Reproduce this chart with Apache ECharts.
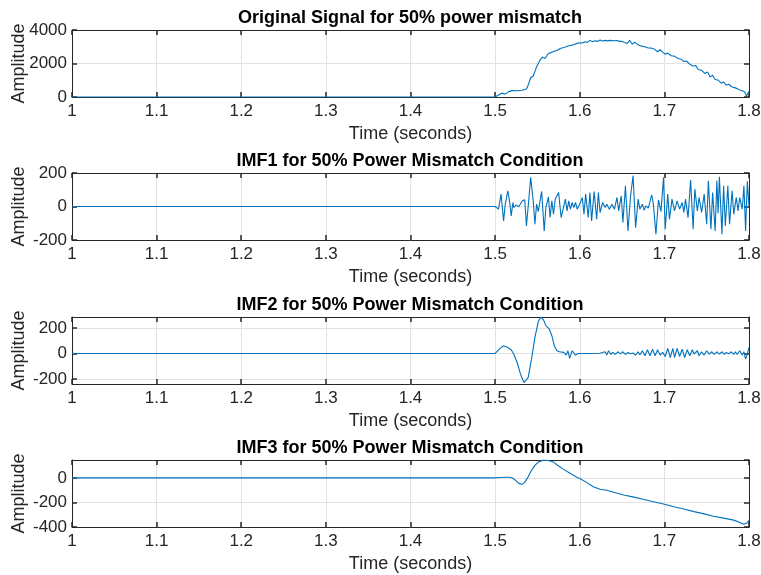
<!DOCTYPE html>
<html>
<head>
<meta charset="utf-8">
<script src="https://cdn.jsdelivr.net/npm/echarts@6/dist/echarts.min.js"></script>
<style>html,body{margin:0;padding:0;background:#fff}#c{width:761px;height:575px}</style>
</head>
<body>
<div id="c"></div>
<script>
// ---------------- data ----------------
const titles = [
  'Original Signal for 50% power mismatch',
  'IMF1 for 50% Power Mismatch Condition',
  'IMF2 for 50% Power Mismatch Condition',
  'IMF3 for 50% Power Mismatch Condition'
];
const xTickLabelsRange = [1, 1.8];
const yTickValues3 = [-200, 0, 200];

const origTime = [1.0, 1.5, 1.504, 1.508, 1.512, 1.516, 1.52, 1.526, 1.532, 1.537, 1.539, 1.542, 1.545, 1.549, 1.553, 1.556, 1.559, 1.563, 1.566, 1.569, 1.573, 1.577, 1.581, 1.584, 1.587, 1.59, 1.593, 1.597, 1.6, 1.603, 1.606, 1.609, 1.612, 1.615, 1.618, 1.621, 1.624, 1.627, 1.63, 1.633, 1.636, 1.64, 1.644, 1.647, 1.65, 1.653, 1.656, 1.659, 1.662, 1.665, 1.668, 1.671, 1.674, 1.677, 1.68, 1.684, 1.688, 1.692, 1.695, 1.698, 1.701, 1.704, 1.708, 1.712, 1.716, 1.72, 1.723, 1.726, 1.73, 1.734, 1.737, 1.74, 1.744, 1.748, 1.751, 1.754, 1.757, 1.76, 1.764, 1.767, 1.77, 1.773, 1.776, 1.78, 1.783, 1.786, 1.789, 1.792, 1.795, 1.797, 1.8];
const origValue = [0, 0, 120, 230, 170, 320, 380, 370, 400, 480, 700, 1150, 1250, 1800, 2200, 2380, 2300, 2600, 2650, 2720, 2780, 2900, 2950, 3000, 3060, 3080, 3140, 3200, 3240, 3220, 3300, 3260, 3380, 3300, 3360, 3320, 3400, 3340, 3380, 3350, 3380, 3360, 3370, 3320, 3320, 3250, 3200, 3380, 3150, 3280, 3140, 3080, 3020, 3000, 2940, 2920, 2860, 2700, 2820, 2680, 2560, 2620, 2460, 2440, 2300, 2250, 2120, 2150, 1960, 1850, 1880, 1640, 1600, 1400, 1500, 1200, 1300, 1050, 1000, 820, 900, 700, 760, 600, 560, 500, 420, 380, 300, 60, 340];

const imf1Time = [1.0, 1.5, 1.504, 1.507, 1.510, 1.512, 1.515, 1.517, 1.519, 1.521, 1.522, 1.525, 1.528, 1.530, 1.532, 1.535, 1.537, 1.540, 1.542, 1.545, 1.547, 1.549, 1.551, 1.555, 1.558, 1.560, 1.563, 1.565, 1.567, 1.569, 1.571, 1.575, 1.578, 1.580, 1.583, 1.585, 1.587, 1.589, 1.591, 1.593, 1.595, 1.597, 1.600, 1.603, 1.605, 1.607, 1.610, 1.612, 1.614, 1.617, 1.620, 1.622, 1.624, 1.627, 1.630, 1.632, 1.635, 1.638, 1.641, 1.644, 1.646, 1.649, 1.651, 1.654, 1.657, 1.660, 1.663, 1.666, 1.669, 1.671, 1.674, 1.676, 1.678, 1.681, 1.685, 1.687, 1.690, 1.693, 1.696, 1.699, 1.701, 1.704, 1.706, 1.709, 1.712, 1.715, 1.718, 1.721, 1.723, 1.725, 1.728, 1.731, 1.734, 1.736, 1.739, 1.741, 1.744, 1.747, 1.750, 1.752, 1.755, 1.757, 1.760, 1.762, 1.7635, 1.765, 1.768, 1.770, 1.772, 1.775, 1.777, 1.780, 1.782, 1.785, 1.787, 1.789, 1.792, 1.794, 1.796, 1.798, 1.800];
const imf1Value = [0, 0, -16, 74, -86, 14, 94, 34, -56, 24, -6, 10, -2, 4, 34, 40, -116, 54, 174, 34, -106, 14, -30, 90, -146, -6, 58, -66, 34, -46, 44, 84, -66, -76, 44, -26, 34, -16, 24, -6, 24, -16, 14, 54, -46, 74, -66, 84, -86, 90, -76, 84, -36, 24, -6, 14, -16, 14, -16, 54, -26, 64, -96, 124, -146, 60, 184, -126, 44, -16, 14, -22, 4, -10, 70, 14, -166, 40, -30, 174, -136, 74, -76, 44, -26, 34, -16, 24, -36, 44, -66, 158, -136, 104, -26, 54, -36, 74, -106, 154, -136, 84, -146, 154, -40, 178, -166, 124, -116, 124, -106, 94, -46, 54, -26, 54, -16, 124, -146, 150, 0];

const imf2Time = [1.0, 1.5, 1.502, 1.506, 1.510, 1.514, 1.519, 1.522, 1.526, 1.530, 1.534, 1.536, 1.539, 1.543, 1.547, 1.551, 1.554, 1.557, 1.560, 1.564, 1.567, 1.570, 1.573, 1.576, 1.578, 1.581, 1.584, 1.586, 1.588, 1.591, 1.593, 1.595, 1.598, 1.612, 1.624, 1.630, 1.632, 1.634, 1.637, 1.639, 1.642, 1.645, 1.648, 1.651, 1.654, 1.657, 1.660, 1.663, 1.666, 1.669, 1.671, 1.674, 1.677, 1.680, 1.683, 1.686, 1.689, 1.692, 1.695, 1.698, 1.701, 1.704, 1.707, 1.710, 1.712, 1.715, 1.718, 1.721, 1.724, 1.727, 1.730, 1.733, 1.735, 1.739, 1.741, 1.744, 1.747, 1.750, 1.753, 1.756, 1.759, 1.762, 1.765, 1.768, 1.771, 1.773, 1.776, 1.779, 1.782, 1.784, 1.786, 1.789, 1.792, 1.794, 1.796, 1.798, 1.800];
const imf2Value = [0, 0, -5, 40, 60, 50, 29, -5, -71, -163, -229, -240, -190, -45, 126, 250, 286, 266, 218, 192, 139, 60, 21, 13, 26, 8, -13, 21, -39, 21, 29, -13, 0, 0, 2, 13, -13, 21, -8, 8, -8, 13, -3, 13, -8, 8, -3, 3, -13, 13, -13, 21, -18, 29, -18, 34, -18, 29, -13, 8, -24, 39, -32, 39, -32, 39, -24, 34, -32, 29, -18, 29, -5, 21, -18, 13, -13, 21, -5, 13, -8, 13, -5, 13, -8, 8, -3, 13, -8, 13, -8, 21, -13, 13, -45, -5, 47];

const imf3Time = [1.0, 1.5, 1.512, 1.516, 1.520, 1.524, 1.528, 1.532, 1.535, 1.539, 1.543, 1.547, 1.551, 1.557, 1.563, 1.569, 1.575, 1.581, 1.589, 1.597, 1.600, 1.608, 1.616, 1.624, 1.632, 1.640, 1.652, 1.664, 1.676, 1.687, 1.699, 1.711, 1.723, 1.735, 1.747, 1.758, 1.770, 1.782, 1.790, 1.794, 1.797, 1.800];
const imf3Value = [0, 0, 5, 5, 0, -19, -45, -53, -37, 8, 61, 101, 128, 144, 141, 128, 96, 69, 35, 3, -5, -37, -72, -93, -101, -117, -139, -157, -176, -195, -213, -235, -253, -275, -293, -312, -328, -344, -365, -378, -370, -347];

const yRanges = [[0, 4000], [-200, 200], [-240, 286], [-400, 145]];
// ---------------------------------------

const FONT = 'Liberation Sans, Arial, Helvetica, sans-serif';
const INK = '#262626';
const tops = [30, 173, 317, 460];
const zip = (t, v) => t.map((x, i) => [x, v[i]]);
const seriesData = [zip(origTime, origValue), zip(imf1Time, imf1Value), zip(imf2Time, imf2Value), zip(imf3Time, imf3Value)];

const grid = [], xAxis = [], yAxis = [], series = [], title = [];
tops.forEach((top, i) => {
  grid.push({left: 72, width: 677, top: top, height: 67, containLabel: false, outerBoundsMode: 'none'});
  title.push({
    text: titles[i], left: 405, top: top - 26, textAlign: 'center',
    textStyle: {fontFamily: FONT, fontSize: 18, fontWeight: 'bold', color: '#000'}
  });
  const xCommon = {
    gridIndex: i, type: 'value', min: xTickLabelsRange[0], max: xTickLabelsRange[1], interval: 0.1
  };
  xAxis.push(Object.assign({}, xCommon, {
    position: 'bottom',
    axisLine: {show: true, onZero: false, lineStyle: {color: INK, width: 1}},
    axisTick: {show: true, inside: true, length: 5, lineStyle: {color: INK, width: 1.5}},
    axisLabel: {color: INK, fontFamily: FONT, fontSize: 17, margin: 6,
      formatter: v => String(Math.round(v * 10) / 10)},
    splitLine: {show: true, lineStyle: {color: '#e2e2e2', width: 1}},
    name: 'Time (seconds)', nameLocation: 'middle', nameGap: 28, nameMoveOverlap: false,
    nameTextStyle: {fontFamily: FONT, fontSize: 18, color: INK}
  }));
  xAxis.push(Object.assign({}, xCommon, {
    position: 'top',
    axisLine: {show: true, onZero: false, lineStyle: {color: INK, width: 1}},
    axisTick: {show: true, inside: true, length: 5, lineStyle: {color: INK, width: 1.5}},
    axisLabel: {show: false}, splitLine: {show: false}
  }));
  const r = yRanges[i];
  const yCommon = {gridIndex: i, type: 'value', min: r[0], max: r[1], interval: 200};
  if (i === 0) yCommon.interval = 2000;
  const tickOpt = {show: true, inside: true, length: 5, lineStyle: {color: INK, width: 1.5}};
  const labOpt = {color: INK, fontFamily: FONT, fontSize: 17, margin: 5, showMaxLabel: i !== 3,
    formatter: v => String(v)};
  if (i === 2) {
    tickOpt.customValues = yTickValues3;
    labOpt.customValues = yTickValues3;
  }
  yAxis.push(Object.assign({}, yCommon, {
    position: 'left',
    axisLine: {show: true, onZero: false, lineStyle: {color: INK, width: 1}},
    axisTick: tickOpt,
    axisLabel: labOpt,
    splitLine: {show: true, lineStyle: {color: '#e2e2e2', width: 1}},
    name: 'Amplitude', nameLocation: 'middle', nameGap: 44, nameRotate: 90, nameMoveOverlap: false,
    nameTextStyle: {fontFamily: FONT, fontSize: 18, color: INK}
  }));
  yAxis.push(Object.assign({}, yCommon, {
    position: 'right',
    axisLine: {show: true, onZero: false, lineStyle: {color: INK, width: 1}},
    axisTick: Object.assign({}, tickOpt),
    axisLabel: {show: false}, splitLine: {show: false}
  }));
  series.push({
    type: 'line', xAxisIndex: 2 * i, yAxisIndex: 2 * i, data: seriesData[i],
    showSymbol: false, symbol: 'none', lineStyle: {color: '#0072BD', width: 1.1},
    itemStyle: {color: '#0072BD'}, clip: true, animation: false
  });
});

const chart = echarts.init(document.getElementById('c'), null, {renderer: 'canvas'});
chart.setOption({animation: false, backgroundColor: '#fff', title, grid, xAxis, yAxis, series});
</script>
</body>
</html>
